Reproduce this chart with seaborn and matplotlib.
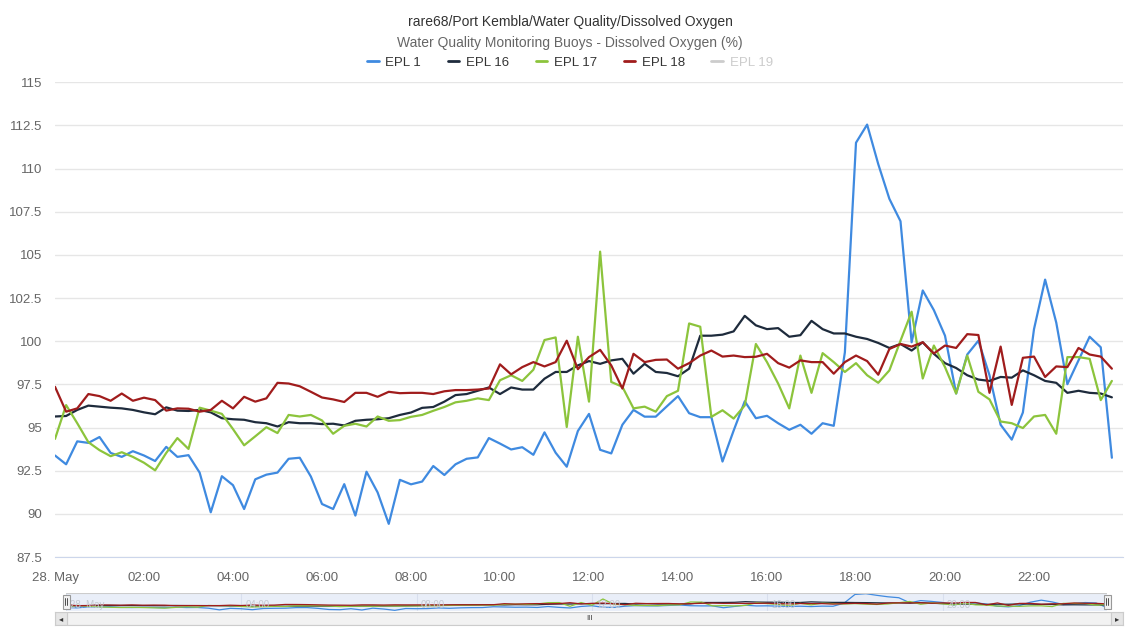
import numpy as np
import pandas as pd
import seaborn as sns
import matplotlib.pyplot as plt
from matplotlib.lines import Line2D
from matplotlib.patches import Rectangle

TITLE = "rare68/Port Kembla/Water Quality/Dissolved Oxygen"
SUBTITLE = "Water Quality Monitoring Buoys - Dissolved Oxygen (%)"

SERIES = ["EPL 1", "EPL 16", "EPL 17", "EPL 18"]
HIDDEN_SERIES = "EPL 19"
PALETTE = {"EPL 1": "#3f8ae0", "EPL 16": "#1e2b3c", "EPL 17": "#8cc43c", "EPL 18": "#a01c1c"}

# 15 minute readings, 28 May 00:00 - 23:45
epl1 = [93.38, 92.87, 94.20, 94.11, 94.45, 93.53, 93.30, 93.63, 93.38, 93.06, 93.88, 93.30,
        93.40, 92.39, 90.09, 92.18, 91.66, 90.28, 92.00, 92.27, 92.39, 93.19, 93.25, 92.16,
        90.57, 90.28, 91.72, 89.90, 92.44, 91.24, 89.42, 91.97, 91.71, 91.87, 92.77, 92.25,
        92.87, 93.19, 93.27, 94.39, 94.07, 93.73, 93.86, 93.42, 94.72, 93.54, 92.73, 94.80,
        95.79, 93.71, 93.50, 95.16, 96.02, 95.63, 95.63, 96.23, 96.82, 95.83, 95.60, 95.60,
        93.03, 94.82, 96.52, 95.54, 95.68, 95.25, 94.87, 95.16, 94.64, 95.25, 95.10, 99.36,
        111.50, 112.55, 110.26, 108.25, 106.95, 99.94, 102.94, 101.80, 100.32, 96.97, 99.23, 100.03,
        98.03, 95.16, 94.30, 95.87, 100.70, 103.57, 101.08, 97.51, 98.89, 100.26, 99.65, 93.25]
epl16 = [95.64, 95.67, 96.02, 96.27, 96.21, 96.15, 96.11, 96.02, 95.88, 95.77, 96.17, 95.98,
         95.96, 96.02, 95.88, 95.54, 95.48, 95.45, 95.31, 95.25, 95.06, 95.31, 95.25, 95.25,
         95.20, 95.22, 95.12, 95.39, 95.45, 95.48, 95.54, 95.73, 95.87, 96.14, 96.19, 96.50,
         96.88, 96.94, 97.13, 97.32, 96.94, 97.32, 97.20, 97.20, 97.83, 98.22, 98.22, 98.60,
         98.85, 98.69, 98.89, 98.98, 98.12, 98.69, 98.22, 98.16, 97.97, 98.41, 100.32, 100.32,
         100.38, 100.57, 101.47, 100.92, 100.70, 100.76, 100.26, 100.35, 101.18, 100.70, 100.45, 100.45,
         100.26, 100.13, 99.90, 99.61, 99.84, 99.46, 99.94, 99.27, 98.73, 98.45, 98.03, 97.78,
         97.70, 97.93, 97.89, 98.31, 98.03, 97.70, 97.59, 97.01, 97.13, 97.01, 96.97, 96.75]
epl17 = [94.34, 96.30, 95.25, 94.15, 93.69, 93.34, 93.57, 93.30, 92.96, 92.52, 93.53, 94.39,
         93.76, 96.15, 95.98, 95.79, 94.91, 93.97, 94.49, 95.02, 94.68, 95.73, 95.64, 95.73,
         95.41, 94.64, 95.10, 95.22, 95.06, 95.64, 95.39, 95.43, 95.62, 95.73, 95.97, 96.19,
         96.46, 96.55, 96.69, 96.59, 97.74, 98.03, 97.70, 98.35, 100.07, 100.22, 95.03, 100.26,
         96.50, 105.19, 97.64, 97.36, 96.11, 96.21, 95.92, 96.82, 97.13, 101.03, 100.84, 95.62,
         96.00, 95.52, 96.28, 99.84, 98.79, 97.55, 96.11, 99.17, 97.01, 99.31, 98.79, 98.22,
         98.73, 98.03, 97.59, 98.31, 100.03, 101.71, 97.84, 99.75, 98.50, 96.97, 99.17, 97.07,
         96.63, 95.35, 95.25, 94.97, 95.64, 95.73, 94.64, 99.08, 99.08, 98.98, 96.59, 97.70]
epl18 = [97.36, 95.92, 96.11, 96.94, 96.82, 96.55, 96.97, 96.55, 96.73, 96.59, 95.98, 96.11,
         96.09, 95.92, 96.02, 96.55, 96.11, 96.78, 96.50, 96.69, 97.59, 97.55, 97.39, 97.07,
         96.74, 96.63, 96.48, 97.01, 97.01, 96.78, 97.07, 96.99, 97.01, 97.01, 96.94, 97.10,
         97.17, 97.17, 97.20, 97.26, 98.66, 98.08, 98.50, 98.79, 98.54, 98.79, 100.03, 98.38,
         99.08, 99.50, 98.60, 97.26, 99.27, 98.79, 98.92, 98.94, 98.41, 98.73, 99.17, 99.46,
         99.11, 99.17, 99.08, 99.10, 99.27, 98.73, 98.47, 98.89, 98.79, 98.79, 98.12, 98.79,
         99.17, 98.85, 98.06, 99.55, 99.84, 99.69, 99.94, 99.29, 99.75, 99.61, 100.41, 100.36,
         97.01, 99.69, 96.31, 99.04, 99.11, 97.93, 98.54, 98.50, 99.61, 99.23, 99.11, 98.41]

times = pd.date_range("2018-05-28 00:00", periods=96, freq="15min")
hours = (times - times[0]) / pd.Timedelta(hours=1)

Y_TICKS = [87.5, 90, 92.5, 95, 97.5, 100, 102.5, 105, 107.5, 110, 112.5, 115]
X_TICKS = [0, 2, 4, 6, 8, 10, 12, 14, 16, 18, 20, 22]
X_LABELS = ["28. May", "02:00", "04:00", "06:00", "08:00", "10:00", "12:00",
            "14:00", "16:00", "18:00", "20:00", "22:00"]
NAV_TICKS = [0, 4, 8, 12, 16, 20]
NAV_LABELS = ["28. May", "04:00", "08:00", "12:00", "16:00", "20:00"]

df = pd.DataFrame({"hour": np.tile(hours, 4),
                   "value": epl1 + epl16 + epl17 + epl18,
                   "station": np.repeat(SERIES, len(hours))})

sns.set_style("white")
plt.rcParams["font.family"] = ["Liberation Sans", "DejaVu Sans"]

W, H = 1140, 628
fig = plt.figure(figsize=(W / 100, H / 100), dpi=100)

def box(x0, y0, x1, y1):
    return [x0 / W, 1 - y1 / H, (x1 - x0) / W, (y1 - y0) / H]

# main chart
ax = fig.add_axes(box(55, 82.3, 1123, 557))
sns.lineplot(data=df, x="hour", y="value", hue="station", palette=PALETTE,
             linewidth=1.6, legend=False, ax=ax)
ax.set_xlim(0, 24)
ax.set_ylim(87.5, 115)
ax.set_yticks(Y_TICKS)
ax.set_yticklabels([f"{t:g}" for t in Y_TICKS], color="#666666", fontsize=9.5)
ax.set_xticks(X_TICKS)
ax.set_xticklabels(X_LABELS, color="#666666", fontsize=9.5)
ax.yaxis.grid(True, color="#e6e6e6", linewidth=1)
ax.set_axisbelow(True)
ax.tick_params(axis="y", length=0, pad=9)
ax.tick_params(axis="x", length=8, color="#ccd6eb", pad=3)
for s in ["top", "right", "left"]:
    ax.spines[s].set_visible(False)
ax.spines["bottom"].set_color("#ccd6eb")
ax.set_xlabel("")
ax.set_ylabel("")

fig.text(0.5, 1 - 22 / H, TITLE, ha="center", va="center", fontsize=10, color="#333333")
fig.text(0.5, 1 - 43 / H, SUBTITLE, ha="center", va="center", fontsize=10, color="#666666")

handles = [Line2D([], [], color=PALETTE[s], lw=2) for s in SERIES]
handles.append(Line2D([], [], color="#cccccc", lw=2))
leg = fig.legend(handles, SERIES + [HIDDEN_SERIES], loc="center", bbox_to_anchor=(0.5, 1 - 63 / H),
                 ncol=5, frameon=False, fontsize=9.5, handlelength=0.9, handletextpad=0.5,
                 columnspacing=2.0)
for t, c in zip(leg.get_texts(), ["#333333"] * 4 + ["#cccccc"]):
    t.set_color(c)

# navigator
nav = fig.add_axes(box(66, 593, 1107, 611))
nav.set_facecolor("#e9eef8")
sns.lineplot(data=df, x="hour", y="value", hue="station", palette=PALETTE,
             linewidth=0.9, legend=False, ax=nav)
nav.set_xlim(0, 23.75)
nav.set_ylim(88.5, 113.5)
nav.set_xticks(NAV_TICKS)
nav.set_xticklabels([])
nav.set_yticks([])
nav.xaxis.grid(True, color="#d8dfee", linewidth=0.8)
nav.tick_params(length=0)
for x, lab in zip(NAV_TICKS, NAV_LABELS):
    nav.text(x + 0.1, 0.35, lab, transform=nav.get_xaxis_transform(), fontsize=7,
             color="#c4c9d2", va="center", ha="left")
for s in nav.spines.values():
    s.set_visible(False)
nav.axhline(113.5, color="#cccccc", lw=0.8)
nav.set_xlabel("")
nav.set_ylabel("")
for hx in [66, 1107]:
    fig.patches.append(Rectangle(((hx - 3.5) / W, 1 - 609 / H), 7 / W, 14 / H,
                                 transform=fig.transFigure, facecolor="#f2f2f2",
                                 edgecolor="#999999", lw=0.8, zorder=5))
    for dx in [-1, 1]:
        fig.add_artist(Line2D([(hx + dx) / W] * 2, [1 - 598 / H, 1 - 605 / H],
                              color="#333333", lw=0.6, zorder=6))

# scrollbar
sb = fig.add_axes(box(55, 612, 1123, 625))
sb.set_xlim(0, 1)
sb.set_ylim(0, 1)
sb.set_xticks([])
sb.set_yticks([])
sb.set_facecolor("#f2f2f2")
for s in sb.spines.values():
    s.set_color("#cccccc")
    s.set_linewidth(0.8)
bw = 12 / 1068
sb.add_patch(Rectangle((bw, 0), 1 - 2 * bw, 1, facecolor="#f2f2f2", edgecolor="#cccccc", lw=0.8))
sb.add_patch(Rectangle((0, 0), bw, 1, facecolor="#e6e6e6", edgecolor="#cccccc", lw=0.8))
sb.add_patch(Rectangle((1 - bw, 0), bw, 1, facecolor="#e6e6e6", edgecolor="#cccccc", lw=0.8))
sb.text(bw / 2, 0.5, "◂", ha="center", va="center", fontsize=6, color="#333333",
        family="DejaVu Sans")
sb.text(1 - bw / 2, 0.5, "▸", ha="center", va="center", fontsize=6, color="#333333",
        family="DejaVu Sans")
sb.text(0.5, 0.5, "III", ha="center", va="center", fontsize=5.5, color="#333333")

fig.savefig("out.png", dpi=100)
